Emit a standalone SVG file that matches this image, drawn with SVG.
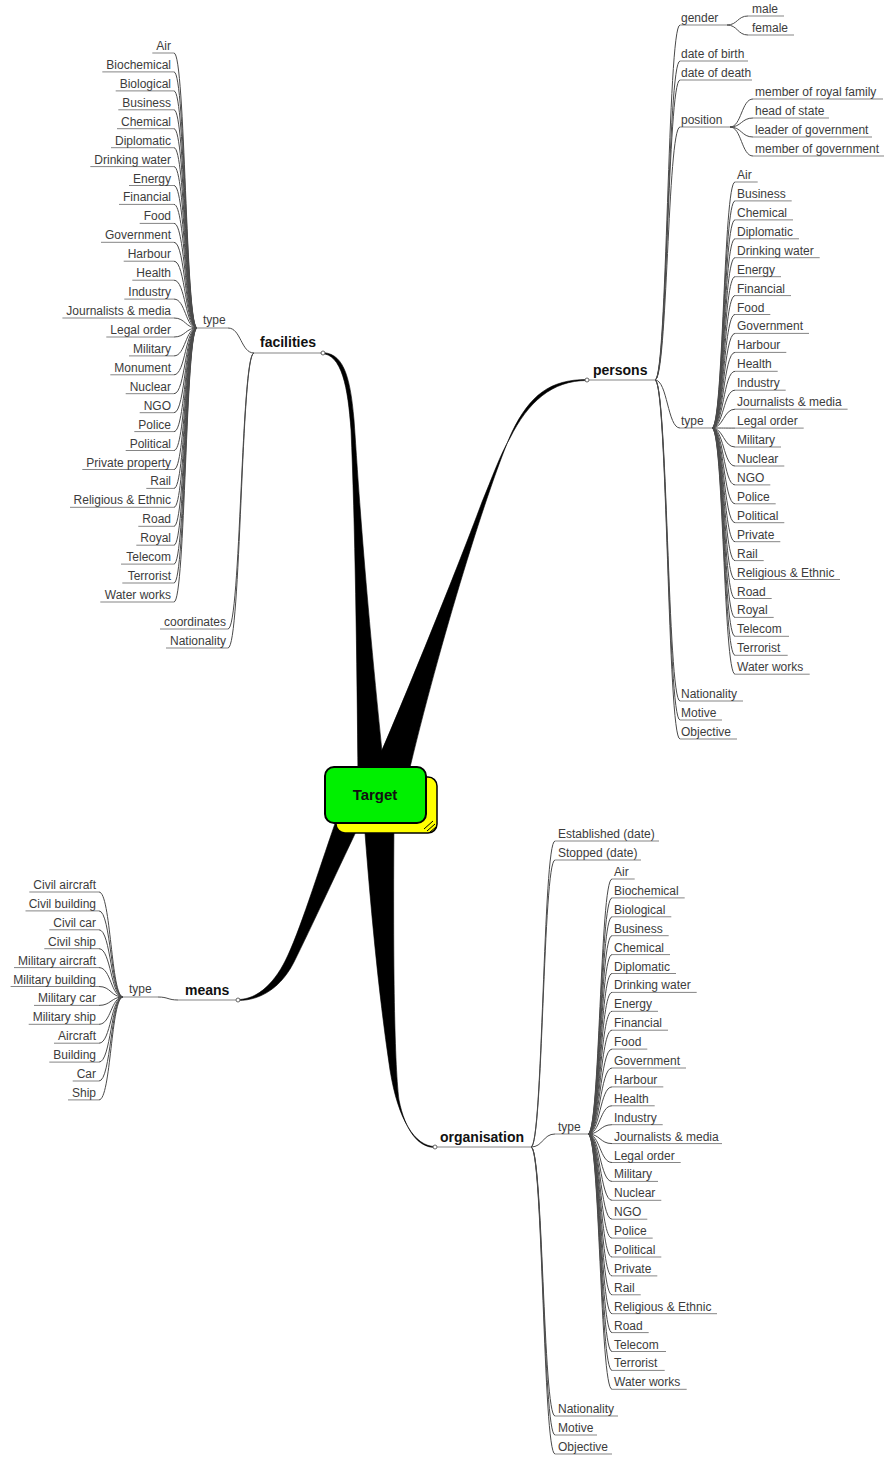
<svg xmlns="http://www.w3.org/2000/svg" width="884" height="1457" viewBox="0 0 884 1457">
<style>
.l{font-family:"Liberation Sans",Arial,sans-serif;font-size:12px;fill:#3c3c3c}
.e{text-anchor:end}
.m{font-family:"Liberation Sans",Arial,sans-serif;font-size:14px;font-weight:bold;fill:#111}
.u{stroke:#858585;stroke-width:1;fill:none}
#connectors path{fill:none;stroke:#4a4a4a;stroke-width:1}
#connectors .w{fill:#000;stroke:#000;stroke-width:0.6}
.knob{fill:#fff;stroke:#666;stroke-width:1}
</style>
<rect width="884" height="1457" fill="#fff"/>

<!-- thin curved connectors between parents and children -->
<g id="connectors">
<!-- facilities / type -->
<path d="M174 53C185.5 53 185.5 328 197 328M174 71.9C185.5 71.9 185.5 328 197 328M174 90.9C185.5 90.9 185.5 328 197 328M174 109.8C185.5 109.8 185.5 328 197 328M174 128.7C185.5 128.7 185.5 328 197 328M174 147.7C185.5 147.7 185.5 328 197 328M174 166.6C185.5 166.6 185.5 328 197 328M174 185.5C185.5 185.5 185.5 328 197 328M174 204.4C185.5 204.4 185.5 328 197 328M174 223.4C185.5 223.4 185.5 328 197 328M174 242.3C185.5 242.3 185.5 328 197 328M174 261.2C185.5 261.2 185.5 328 197 328M174 280.2C185.5 280.2 185.5 328 197 328M174 299.1C185.5 299.1 185.5 328 197 328M174 318C185.5 318 185.5 328 197 328M174 337C185.5 337 185.5 328 197 328M174 355.9C185.5 355.9 185.5 328 197 328M174 374.8C185.5 374.8 185.5 328 197 328M174 393.7C185.5 393.7 185.5 328 197 328M174 412.7C185.5 412.7 185.5 328 197 328M174 431.6C185.5 431.6 185.5 328 197 328M174 450.5C185.5 450.5 185.5 328 197 328M174 469.5C185.5 469.5 185.5 328 197 328M174 488.4C185.5 488.4 185.5 328 197 328M174 507.3C185.5 507.3 185.5 328 197 328M174 526.3C185.5 526.3 185.5 328 197 328M174 545.2C185.5 545.2 185.5 328 197 328M174 564.1C185.5 564.1 185.5 328 197 328M174 583C185.5 583 185.5 328 197 328M174 602C185.5 602 185.5 328 197 328"/>
<!-- facilities -->
<path d="M228 328C241 328 241 353 254 353M228 629C241 629 241 353 254 353M228 648C241 648 241 353 254 353"/>
<!-- persons -->
<path d="M655 380C667.5 380 667.5 25 680 25M655 380C667.5 380 667.5 61 680 61M655 380C667.5 380 667.5 80 680 80M655 380C667.5 380 667.5 127 680 127M655 380C667.5 380 667.5 428 680 428M655 380C667.5 380 667.5 701 680 701M655 380C667.5 380 667.5 720 680 720M655 380C667.5 380 667.5 739 680 739"/>
<path d="M727 25C737.5 25 737.5 16 748 16M727 25C737.5 25 737.5 35 748 35"/>
<path d="M730 127C741.5 127 741.5 99 753 99M730 127C741.5 127 741.5 118 753 118M730 127C741.5 127 741.5 137 753 137M730 127C741.5 127 741.5 156 753 156"/>
<!-- persons / type -->
<path d="M712 428C723.5 428 723.5 182 735 182M712 428C723.5 428 723.5 200.9 735 200.9M712 428C723.5 428 723.5 219.9 735 219.9M712 428C723.5 428 723.5 238.8 735 238.8M712 428C723.5 428 723.5 257.7 735 257.7M712 428C723.5 428 723.5 276.7 735 276.7M712 428C723.5 428 723.5 295.6 735 295.6M712 428C723.5 428 723.5 314.5 735 314.5M712 428C723.5 428 723.5 333.4 735 333.4M712 428C723.5 428 723.5 352.4 735 352.4M712 428C723.5 428 723.5 371.3 735 371.3M712 428C723.5 428 723.5 390.2 735 390.2M712 428C723.5 428 723.5 409.2 735 409.2M712 428C723.5 428 723.5 428.1 735 428.1M712 428C723.5 428 723.5 447 735 447M712 428C723.5 428 723.5 466 735 466M712 428C723.5 428 723.5 484.9 735 484.9M712 428C723.5 428 723.5 503.8 735 503.8M712 428C723.5 428 723.5 522.7 735 522.7M712 428C723.5 428 723.5 541.7 735 541.7M712 428C723.5 428 723.5 560.6 735 560.6M712 428C723.5 428 723.5 579.5 735 579.5M712 428C723.5 428 723.5 598.5 735 598.5M712 428C723.5 428 723.5 617.4 735 617.4M712 428C723.5 428 723.5 636.3 735 636.3M712 428C723.5 428 723.5 655.3 735 655.3M712 428C723.5 428 723.5 674.2 735 674.2"/>
<!-- means -->
<path d="M99 892C111 892 111 997 123 997M99 910.9C111 910.9 111 997 123 997M99 929.8C111 929.8 111 997 123 997M99 948.7C111 948.7 111 997 123 997M99 967.6C111 967.6 111 997 123 997M99 986.5C111 986.5 111 997 123 997M99 1005.4C111 1005.4 111 997 123 997M99 1024.3C111 1024.3 111 997 123 997M99 1043.2C111 1043.2 111 997 123 997M99 1062.1C111 1062.1 111 997 123 997M99 1081C111 1081 111 997 123 997M99 1099.9C111 1099.9 111 997 123 997"/>
<path d="M158 997C168 997 168 1000 178 1000"/>
<!-- organisation -->
<path d="M531 1147C543 1147 543 841 555 841M531 1147C543 1147 543 860 555 860M531 1147C543 1147 543 1134 555 1134M531 1147C543 1147 543 1416 555 1416M531 1147C543 1147 543 1435 555 1435M531 1147C543 1147 543 1454 555 1454"/>
<path d="M588 1134C600 1134 600 879 612 879M588 1134C600 1134 600 897.9 612 897.9M588 1134C600 1134 600 916.8 612 916.8M588 1134C600 1134 600 935.7 612 935.7M588 1134C600 1134 600 954.6 612 954.6M588 1134C600 1134 600 973.5 612 973.5M588 1134C600 1134 600 992.4 612 992.4M588 1134C600 1134 600 1011.3 612 1011.3M588 1134C600 1134 600 1030.2 612 1030.2M588 1134C600 1134 600 1049.1 612 1049.1M588 1134C600 1134 600 1068 612 1068M588 1134C600 1134 600 1086.9 612 1086.9M588 1134C600 1134 600 1105.8 612 1105.8M588 1134C600 1134 600 1124.7 612 1124.7M588 1134C600 1134 600 1143.6 612 1143.6M588 1134C600 1134 600 1162.5 612 1162.5M588 1134C600 1134 600 1181.4 612 1181.4M588 1134C600 1134 600 1200.3 612 1200.3M588 1134C600 1134 600 1219.2 612 1219.2M588 1134C600 1134 600 1238.1 612 1238.1M588 1134C600 1134 600 1257 612 1257M588 1134C600 1134 600 1275.9 612 1275.9M588 1134C600 1134 600 1294.8 612 1294.8M588 1134C600 1134 600 1313.7 612 1313.7M588 1134C600 1134 600 1332.6 612 1332.6M588 1134C600 1134 600 1351.5 612 1351.5M588 1134C600 1134 600 1370.4 612 1370.4M588 1134C600 1134 600 1389.3 612 1389.3"/>
<!-- tapered main branches from the central topic -->
<path class="w" d="M321 352.5C342 352.5 350 372 354 420C357 460 362 560 385 780L358 780C357 660 355 520 351 430C348 388 342 353.5 321 353.5Z"/>
<path class="w" d="M587 379.5C550 379.5 530 395 512 432C490 480 440 640 407 780L369 780C395 722 455 575 482 502C492 478 500 455 510 438C528 402 552 380.5 587 380.5Z"/>
<path class="w" d="M338 815C322 860 302 925 288 955C276 982 258 999.5 238 999.5L238 1000.5C262 1000.5 282 986 294 962C310 930 340 865 364 815Z"/>
<path class="w" d="M364 820C370 900 378 990 390 1070C398 1120 415 1146.5 435 1146.5L435 1147.5C418 1147.5 405 1130 399 1100C394 1060 393 950 394 820Z"/>
</g>

<!-- central topic -->
<g id="target">
<rect x="336" y="777" width="101" height="56" rx="9" fill="#ffff00" stroke="#000" stroke-width="1.5"/>
<path d="M424 829L433 821M427 831L435 824M430 832L436 827" stroke="#000" stroke-width="1"/>
<rect x="325" y="767" width="101" height="56" rx="9" fill="#00f000" stroke="#000" stroke-width="2"/>
<text x="375" y="800" text-anchor="middle" style="font-family:'Liberation Sans',Arial,sans-serif;font-size:15px;font-weight:bold;fill:#111">Target</text>
</g>

<!-- facilities -->
<g id="facilities"><path class="u" d="M254 353H321"/><circle class="knob" cx="323" cy="353" r="2"/><text class="m" x="260" y="347">facilities</text></g>
<g id="facilities-type"><path class="u" d="M197 328H228"/><text class="l" x="203" y="324">type</text></g>
<g id="facilities-coordinates"><path class="u" d="M160 629H228"/><text class="l e" x="226" y="626">coordinates</text></g>
<g id="facilities-nationality"><path class="u" d="M166 648H228"/><text class="l e" x="226" y="645">Nationality</text></g>
<g id="ft-air"><path class="u" d="M152.3 53H174"/><text class="l e" x="171" y="50">Air</text></g>
<g id="ft-biochemical"><path class="u" d="M102.3 71.9H174"/><text class="l e" x="171" y="68.9">Biochemical</text></g>
<g id="ft-biological"><path class="u" d="M115.7 90.9H174"/><text class="l e" x="171" y="87.9">Biological</text></g>
<g id="ft-business"><path class="u" d="M118.3 109.8H174"/><text class="l e" x="171" y="106.8">Business</text></g>
<g id="ft-chemical"><path class="u" d="M117 128.7H174"/><text class="l e" x="171" y="125.7">Chemical</text></g>
<g id="ft-diplomatic"><path class="u" d="M111 147.7H174"/><text class="l e" x="171" y="144.7">Diplomatic</text></g>
<g id="ft-drinking-water"><path class="u" d="M90.3 166.6H174"/><text class="l e" x="171" y="163.6">Drinking water</text></g>
<g id="ft-energy"><path class="u" d="M129 185.5H174"/><text class="l e" x="171" y="182.5">Energy</text></g>
<g id="ft-financial"><path class="u" d="M119 204.4H174"/><text class="l e" x="171" y="201.4">Financial</text></g>
<g id="ft-food"><path class="u" d="M139.7 223.4H174"/><text class="l e" x="171" y="220.4">Food</text></g>
<g id="ft-government"><path class="u" d="M101 242.3H174"/><text class="l e" x="171" y="239.3">Government</text></g>
<g id="ft-harbour"><path class="u" d="M123.7 261.2H174"/><text class="l e" x="171" y="258.2">Harbour</text></g>
<g id="ft-health"><path class="u" d="M132.3 280.2H174"/><text class="l e" x="171" y="277.2">Health</text></g>
<g id="ft-industry"><path class="u" d="M124.3 299.1H174"/><text class="l e" x="171" y="296.1">Industry</text></g>
<g id="ft-journalists"><path class="u" d="M62.4 318H174"/><text class="l e" x="171" y="315">Journalists &amp; media</text></g>
<g id="ft-legal-order"><path class="u" d="M106.3 337H174"/><text class="l e" x="171" y="334">Legal order</text></g>
<g id="ft-military"><path class="u" d="M129 355.9H174"/><text class="l e" x="171" y="352.9">Military</text></g>
<g id="ft-monument"><path class="u" d="M110.3 374.8H174"/><text class="l e" x="171" y="371.8">Monument</text></g>
<g id="ft-nuclear"><path class="u" d="M125.7 393.7H174"/><text class="l e" x="171" y="390.7">Nuclear</text></g>
<g id="ft-ngo"><path class="u" d="M139.7 412.7H174"/><text class="l e" x="171" y="409.7">NGO</text></g>
<g id="ft-police"><path class="u" d="M134.3 431.6H174"/><text class="l e" x="171" y="428.6">Police</text></g>
<g id="ft-political"><path class="u" d="M125.7 450.5H174"/><text class="l e" x="171" y="447.5">Political</text></g>
<g id="ft-private-property"><path class="u" d="M82.3 469.5H174"/><text class="l e" x="171" y="466.5">Private property</text></g>
<g id="ft-rail"><path class="u" d="M146.3 488.4H174"/><text class="l e" x="171" y="485.4">Rail</text></g>
<g id="ft-religious"><path class="u" d="M70 507.3H174"/><text class="l e" x="171" y="504.3">Religious &amp; Ethnic</text></g>
<g id="ft-road"><path class="u" d="M138.3 526.3H174"/><text class="l e" x="171" y="523.3">Road</text></g>
<g id="ft-royal"><path class="u" d="M136.3 545.2H174"/><text class="l e" x="171" y="542.2">Royal</text></g>
<g id="ft-telecom"><path class="u" d="M121 564.1H174"/><text class="l e" x="171" y="561.1">Telecom</text></g>
<g id="ft-terrorist"><path class="u" d="M122.3 583H174"/><text class="l e" x="171" y="580">Terrorist</text></g>
<g id="ft-water-works"><path class="u" d="M100.3 602H174"/><text class="l e" x="171" y="599">Water works</text></g>

<!-- persons -->
<g id="persons"><path class="u" d="M589 380H655"/><circle class="knob" cx="587" cy="380" r="2"/><text class="m" x="593" y="375">persons</text></g>
<g id="persons-gender"><path class="u" d="M680 25H727"/><text class="l" x="681" y="22">gender</text></g>
<g id="gender-male"><path class="u" d="M748 16H784"/><text class="l" x="752" y="13">male</text></g>
<g id="gender-female"><path class="u" d="M748 35H794"/><text class="l" x="752" y="32">female</text></g>
<g id="persons-dob"><path class="u" d="M680 61H748"/><text class="l" x="681" y="58">date of birth</text></g>
<g id="persons-dod"><path class="u" d="M680 80H752"/><text class="l" x="681" y="77">date of death</text></g>
<g id="persons-position"><path class="u" d="M680 127H730"/><text class="l" x="681" y="124">position</text></g>
<g id="position-royal"><path class="u" d="M753 99H883"/><text class="l" x="755" y="96">member of royal family</text></g>
<g id="position-head"><path class="u" d="M753 118H829"/><text class="l" x="755" y="115">head of state</text></g>
<g id="position-leader"><path class="u" d="M753 137H872"/><text class="l" x="755" y="134">leader of government</text></g>
<g id="position-member"><path class="u" d="M753 156H884"/><text class="l" x="755" y="153">member of government</text></g>
<g id="persons-type"><path class="u" d="M680 428H712"/><text class="l" x="681" y="425">type</text></g>
<g id="persons-nationality"><path class="u" d="M680 701H743"/><text class="l" x="681" y="698">Nationality</text></g>
<g id="persons-motive"><path class="u" d="M680 720H722"/><text class="l" x="681" y="717">Motive</text></g>
<g id="persons-objective"><path class="u" d="M680 739H737"/><text class="l" x="681" y="736">Objective</text></g>
<g id="pt-air"><path class="u" d="M735 182H757.7"/><text class="l" x="737" y="179">Air</text></g>
<g id="pt-business"><path class="u" d="M735 200.9H791.7"/><text class="l" x="737" y="197.9">Business</text></g>
<g id="pt-chemical"><path class="u" d="M735 219.9H793"/><text class="l" x="737" y="216.9">Chemical</text></g>
<g id="pt-diplomatic"><path class="u" d="M735 238.8H799"/><text class="l" x="737" y="235.8">Diplomatic</text></g>
<g id="pt-drinking-water"><path class="u" d="M735 257.7H819.7"/><text class="l" x="737" y="254.7">Drinking water</text></g>
<g id="pt-energy"><path class="u" d="M735 276.7H781"/><text class="l" x="737" y="273.7">Energy</text></g>
<g id="pt-financial"><path class="u" d="M735 295.6H791"/><text class="l" x="737" y="292.6">Financial</text></g>
<g id="pt-food"><path class="u" d="M735 314.5H770.3"/><text class="l" x="737" y="311.5">Food</text></g>
<g id="pt-government"><path class="u" d="M735 333.4H809"/><text class="l" x="737" y="330.4">Government</text></g>
<g id="pt-harbour"><path class="u" d="M735 352.4H786.3"/><text class="l" x="737" y="349.4">Harbour</text></g>
<g id="pt-health"><path class="u" d="M735 371.3H777.7"/><text class="l" x="737" y="368.3">Health</text></g>
<g id="pt-industry"><path class="u" d="M735 390.2H785.7"/><text class="l" x="737" y="387.2">Industry</text></g>
<g id="pt-journalists"><path class="u" d="M735 409.2H847.6"/><text class="l" x="737" y="406.2">Journalists &amp; media</text></g>
<g id="pt-legal-order"><path class="u" d="M735 428.1H803.7"/><text class="l" x="737" y="425.1">Legal order</text></g>
<g id="pt-military"><path class="u" d="M735 447H781"/><text class="l" x="737" y="444">Military</text></g>
<g id="pt-nuclear"><path class="u" d="M735 466H784.3"/><text class="l" x="737" y="463">Nuclear</text></g>
<g id="pt-ngo"><path class="u" d="M735 484.9H770.3"/><text class="l" x="737" y="481.9">NGO</text></g>
<g id="pt-police"><path class="u" d="M735 503.8H775.7"/><text class="l" x="737" y="500.8">Police</text></g>
<g id="pt-political"><path class="u" d="M735 522.7H784.3"/><text class="l" x="737" y="519.7">Political</text></g>
<g id="pt-private"><path class="u" d="M735 541.7H780.3"/><text class="l" x="737" y="538.7">Private</text></g>
<g id="pt-rail"><path class="u" d="M735 560.6H763.7"/><text class="l" x="737" y="557.6">Rail</text></g>
<g id="pt-religious"><path class="u" d="M735 579.5H840"/><text class="l" x="737" y="576.5">Religious &amp; Ethnic</text></g>
<g id="pt-road"><path class="u" d="M735 598.5H771.7"/><text class="l" x="737" y="595.5">Road</text></g>
<g id="pt-royal"><path class="u" d="M735 617.4H773.7"/><text class="l" x="737" y="614.4">Royal</text></g>
<g id="pt-telecom"><path class="u" d="M735 636.3H789"/><text class="l" x="737" y="633.3">Telecom</text></g>
<g id="pt-terrorist"><path class="u" d="M735 655.3H787.7"/><text class="l" x="737" y="652.3">Terrorist</text></g>
<g id="pt-water-works"><path class="u" d="M735 674.2H809.7"/><text class="l" x="737" y="671.2">Water works</text></g>

<!-- means -->
<g id="means"><path class="u" d="M178 1000H236"/><circle class="knob" cx="238" cy="1000" r="2"/><text class="m" x="185" y="995">means</text></g>
<g id="means-type"><path class="u" d="M123 997H158"/><text class="l" x="129" y="993">type</text></g>
<g id="mt-civil-aircraft"><path class="u" d="M29.3 892H99"/><text class="l e" x="96" y="889">Civil aircraft</text></g>
<g id="mt-civil-building"><path class="u" d="M25.5 910.9H99"/><text class="l e" x="96" y="907.9">Civil building</text></g>
<g id="mt-civil-car"><path class="u" d="M49.3 929.8H99"/><text class="l e" x="96" y="926.8">Civil car</text></g>
<g id="mt-civil-ship"><path class="u" d="M44.3 948.7H99"/><text class="l e" x="96" y="945.7">Civil ship</text></g>
<g id="mt-military-aircraft"><path class="u" d="M14 967.6H99"/><text class="l e" x="96" y="964.6">Military aircraft</text></g>
<g id="mt-military-building"><path class="u" d="M10.6 986.5H99"/><text class="l e" x="96" y="983.5">Military building</text></g>
<g id="mt-military-car"><path class="u" d="M34 1005.4H99"/><text class="l e" x="96" y="1002.4">Military car</text></g>
<g id="mt-military-ship"><path class="u" d="M28.7 1024.3H99"/><text class="l e" x="96" y="1021.3">Military ship</text></g>
<g id="mt-aircraft"><path class="u" d="M54 1043.2H99"/><text class="l e" x="96" y="1040.2">Aircraft</text></g>
<g id="mt-building"><path class="u" d="M49.3 1062.1H99"/><text class="l e" x="96" y="1059.1">Building</text></g>
<g id="mt-car"><path class="u" d="M72.7 1081H99"/><text class="l e" x="96" y="1078">Car</text></g>
<g id="mt-ship"><path class="u" d="M68 1099.9H99"/><text class="l e" x="96" y="1096.9">Ship</text></g>

<!-- organisation -->
<g id="organisation"><path class="u" d="M437 1147H531"/><circle class="knob" cx="435" cy="1147" r="2"/><text class="m" x="440" y="1142">organisation</text></g>
<g id="org-established"><path class="u" d="M555 841H659"/><text class="l" x="558" y="838">Established (date)</text></g>
<g id="org-stopped"><path class="u" d="M555 860H641"/><text class="l" x="558" y="857">Stopped (date)</text></g>
<g id="org-type"><path class="u" d="M555 1134H588"/><text class="l" x="558" y="1131">type</text></g>
<g id="org-nationality"><path class="u" d="M555 1416H618"/><text class="l" x="558" y="1413">Nationality</text></g>
<g id="org-motive"><path class="u" d="M555 1435H597"/><text class="l" x="558" y="1432">Motive</text></g>
<g id="org-objective"><path class="u" d="M555 1454H612"/><text class="l" x="558" y="1451">Objective</text></g>
<g id="ot-air"><path class="u" d="M612 879H634.7"/><text class="l" x="614" y="876">Air</text></g>
<g id="ot-biochemical"><path class="u" d="M612 897.9H684.7"/><text class="l" x="614" y="894.9">Biochemical</text></g>
<g id="ot-biological"><path class="u" d="M612 916.8H671.3"/><text class="l" x="614" y="913.8">Biological</text></g>
<g id="ot-business"><path class="u" d="M612 935.7H668.7"/><text class="l" x="614" y="932.7">Business</text></g>
<g id="ot-chemical"><path class="u" d="M612 954.6H670"/><text class="l" x="614" y="951.6">Chemical</text></g>
<g id="ot-diplomatic"><path class="u" d="M612 973.5H676"/><text class="l" x="614" y="970.5">Diplomatic</text></g>
<g id="ot-drinking-water"><path class="u" d="M612 992.4H696.7"/><text class="l" x="614" y="989.4">Drinking water</text></g>
<g id="ot-energy"><path class="u" d="M612 1011.3H658"/><text class="l" x="614" y="1008.3">Energy</text></g>
<g id="ot-financial"><path class="u" d="M612 1030.2H668"/><text class="l" x="614" y="1027.2">Financial</text></g>
<g id="ot-food"><path class="u" d="M612 1049.1H647.3"/><text class="l" x="614" y="1046.1">Food</text></g>
<g id="ot-government"><path class="u" d="M612 1068H686"/><text class="l" x="614" y="1065">Government</text></g>
<g id="ot-harbour"><path class="u" d="M612 1086.9H663.3"/><text class="l" x="614" y="1083.9">Harbour</text></g>
<g id="ot-health"><path class="u" d="M612 1105.8H654.7"/><text class="l" x="614" y="1102.8">Health</text></g>
<g id="ot-industry"><path class="u" d="M612 1124.7H662.7"/><text class="l" x="614" y="1121.7">Industry</text></g>
<g id="ot-journalists"><path class="u" d="M612 1143.6H722"/><text class="l" x="614" y="1140.6">Journalists &amp; media</text></g>
<g id="ot-legal-order"><path class="u" d="M612 1162.5H680.7"/><text class="l" x="614" y="1159.5">Legal order</text></g>
<g id="ot-military"><path class="u" d="M612 1181.4H658"/><text class="l" x="614" y="1178.4">Military</text></g>
<g id="ot-nuclear"><path class="u" d="M612 1200.3H661.3"/><text class="l" x="614" y="1197.3">Nuclear</text></g>
<g id="ot-ngo"><path class="u" d="M612 1219.2H647.3"/><text class="l" x="614" y="1216.2">NGO</text></g>
<g id="ot-police"><path class="u" d="M612 1238.1H652.7"/><text class="l" x="614" y="1235.1">Police</text></g>
<g id="ot-political"><path class="u" d="M612 1257H661.3"/><text class="l" x="614" y="1254">Political</text></g>
<g id="ot-private"><path class="u" d="M612 1275.9H657.3"/><text class="l" x="614" y="1272.9">Private</text></g>
<g id="ot-rail"><path class="u" d="M612 1294.8H640.7"/><text class="l" x="614" y="1291.8">Rail</text></g>
<g id="ot-religious"><path class="u" d="M612 1313.7H717"/><text class="l" x="614" y="1310.7">Religious &amp; Ethnic</text></g>
<g id="ot-road"><path class="u" d="M612 1332.6H648.7"/><text class="l" x="614" y="1329.6">Road</text></g>
<g id="ot-telecom"><path class="u" d="M612 1351.5H666"/><text class="l" x="614" y="1348.5">Telecom</text></g>
<g id="ot-terrorist"><path class="u" d="M612 1370.4H664.7"/><text class="l" x="614" y="1367.4">Terrorist</text></g>
<g id="ot-water-works"><path class="u" d="M612 1389.3H686.7"/><text class="l" x="614" y="1386.3">Water works</text></g>
</svg>
